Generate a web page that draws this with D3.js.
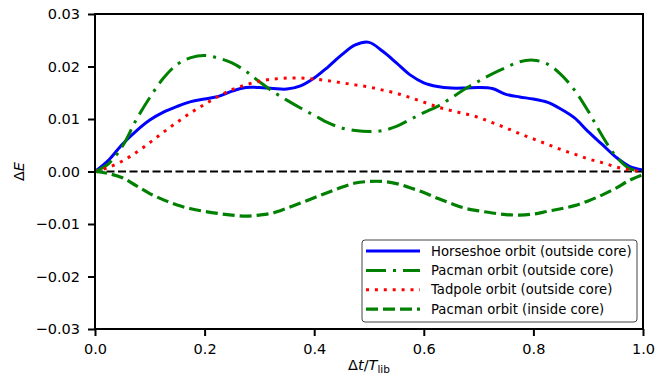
<!DOCTYPE html>
<html><head><meta charset="utf-8">
<script src="https://cdn.jsdelivr.net/npm/d3@7"></script>
<style>
html,body{margin:0;padding:0;background:#fff;}
text{font-family:"DejaVu Sans",sans-serif;fill:#000;}
</style></head>
<body>
<svg id="chart" width="670" height="378"></svg>
<script>
const xs = [0,0.025,0.05,0.075,0.1,0.125,0.15,0.175,0.2,0.225,0.25,0.275,0.3,0.325,0.35,0.375,0.4,0.425,0.45,0.475,0.5,0.525,0.55,0.575,0.6,0.625,0.65,0.675,0.7,0.725,0.75,0.775,0.8,0.825,0.85,0.875,0.9,0.925,0.95,0.975,1.0];
const horseshoeOut = [0,0.0022,0.0052,0.0077,0.0098,0.0113,0.0124,0.0133,0.0138,0.0143,0.0153,0.0160,0.0160,0.0158,0.0157,0.0163,0.0178,0.0199,0.0222,0.0241,0.0246,0.0229,0.0207,0.0184,0.0169,0.0162,0.0159,0.0159,0.0160,0.0158,0.0147,0.0142,0.0138,0.0132,0.0119,0.0102,0.0076,0.0052,0.0028,0.0010,0.0003];
const pacmanOut = [0,0.0015,0.0048,0.0098,0.0141,0.0178,0.0204,0.0217,0.0221,0.0216,0.0207,0.0191,0.0171,0.0152,0.0136,0.0121,0.0107,0.0093,0.0083,0.0078,0.0076,0.0078,0.0086,0.0099,0.0112,0.0124,0.0140,0.0157,0.0172,0.0186,0.0198,0.0209,0.0212,0.0205,0.0185,0.0155,0.0115,0.0069,0.0030,0.0006,0];
const tadpoleOut = [0,0.0008,0.0020,0.0036,0.0055,0.0075,0.0094,0.0112,0.0128,0.0143,0.0156,0.0165,0.0172,0.0176,0.0178,0.0178,0.0176,0.0173,0.0169,0.0165,0.0161,0.0155,0.0149,0.0141,0.0132,0.0123,0.0116,0.0110,0.0103,0.0093,0.0083,0.0072,0.0062,0.0052,0.0042,0.0033,0.0024,0.0017,0.0009,0.0003,0];
const pacmanIn = [0,-0.0004,-0.0012,-0.0027,-0.0042,-0.0054,-0.0064,-0.0071,-0.0076,-0.0080,-0.0083,-0.0085,-0.0083,-0.0079,-0.0070,-0.0060,-0.0050,-0.0040,-0.0030,-0.0022,-0.0019,-0.0019,-0.0023,-0.0031,-0.0040,-0.0051,-0.0061,-0.0070,-0.0075,-0.0079,-0.0082,-0.0083,-0.0081,-0.0076,-0.0071,-0.0065,-0.0056,-0.0045,-0.0032,-0.0017,-0.0006];
const xTicks = [0,0.2,0.4,0.6,0.8,1.0];
const yTicks = [-0.03,-0.02,-0.01,0,0.01,0.02,0.03];
const seriesNames = ["Horseshoe orbit (outside core)","Pacman orbit (outside core)","Tadpole orbit (outside core)","Pacman orbit (inside core)"];

const series = [
  {name: seriesNames[0], values: horseshoeOut, color: "#0000ff", dash: null, width: 3},
  {name: seriesNames[1], values: pacmanOut, color: "#008000", dash: "20,7,3,7", width: 3},
  {name: seriesNames[2], values: tadpoleOut, color: "#ff0000", dash: "3,5.9", width: 3},
  {name: seriesNames[3], values: pacmanIn, color: "#008000", dash: "12,5", width: 3.2}
];

const L = 95, R = 643, T = 14, B = 329;
const svg = d3.select("#chart");
const x = d3.scaleLinear().domain([0,1]).range([L,R]);
const y = d3.scaleLinear().domain([-0.03,0.03]).range([B,T]);

svg.append("defs").append("clipPath").attr("id","clip")
  .append("rect").attr("x",L).attr("y",T).attr("width",R-L).attr("height",B-T);

// zero line
svg.append("line").attr("x1",x(0)).attr("x2",x(1)).attr("y1",y(0)).attr("y2",y(0))
  .attr("stroke","#000").attr("stroke-width",2).attr("stroke-dasharray","8,3.5");

const line = d3.line().x((d,i)=>x(xs[i])).y(d=>y(d)).curve(d3.curveCatmullRom.alpha(0.5));
const g = svg.append("g").attr("clip-path","url(#clip)");
series.forEach(s=>{
  g.append("path").datum(s.values).attr("d",line).attr("fill","none")
    .attr("stroke",s.color).attr("stroke-width",s.width)
    .attr("stroke-dasharray",s.dash).attr("stroke-linecap","butt").attr("stroke-linejoin","round");
});

// axes
const fmtX = d3.format(".1f");
const fmtY = v => { const s = d3.format(".2f")(Math.abs(v)); return (v < -1e-9 ? "\u2212" : "") + s; };
const xAxis = d3.axisBottom(x).tickValues(xTicks).tickFormat(fmtX).tickSizeInner(7).tickSizeOuter(0).tickPadding(8);
const yAxis = d3.axisLeft(y).tickValues(yTicks).tickFormat(fmtY).tickSizeInner(7).tickSizeOuter(0).tickPadding(8);
const gx = svg.append("g").attr("transform",`translate(0,${B})`).call(xAxis);
const gy = svg.append("g").attr("transform",`translate(${L},0)`).call(yAxis);
[gx,gy].forEach(a=>{
  a.select(".domain").remove();
  a.selectAll(".tick line").attr("stroke","#000").attr("stroke-width",2);
  a.selectAll(".tick text").attr("font-size",14.5).attr("font-family","DejaVu Sans").attr("fill","#000");
});
// frame
svg.append("rect").attr("x",L).attr("y",T).attr("width",R-L).attr("height",B-T)
  .attr("fill","none").attr("stroke","#000").attr("stroke-width",2);

// axis labels
const xl = svg.append("text").attr("x",(L+R)/2).attr("y",370).attr("text-anchor","middle").attr("font-size",14.5);
xl.append("tspan").text("\u0394");
xl.append("tspan").attr("font-style","italic").text("t");
xl.append("tspan").text("/");
xl.append("tspan").attr("font-style","italic").text("T");
xl.append("tspan").attr("font-size",10.5).attr("dy",3).text("lib");

const yl = svg.append("text").attr("transform",`translate(24,${(T+B)/2}) rotate(-90)`).attr("text-anchor","middle").attr("font-size",14.5);
yl.append("tspan").text("\u0394");
yl.append("tspan").attr("font-style","italic").text("E");

// legend
const lg = svg.append("g");
lg.append("rect").attr("x",362).attr("y",240).attr("width",275).attr("height",82).attr("rx",3)
  .attr("fill","#fff").attr("stroke","#444").attr("stroke-width",1);
series.forEach((s,i)=>{
  const yy = 251 + i*19.4;
  lg.append("line").attr("x1",366).attr("x2",420).attr("y1",yy).attr("y2",yy)
    .attr("stroke",s.color).attr("stroke-width",s.width).attr("stroke-dasharray",s.dash);
  lg.append("text").attr("x",431).attr("y",yy).attr("dy","0.35em").attr("font-size",13.2).text(s.name);
});
</script>
</body></html>
